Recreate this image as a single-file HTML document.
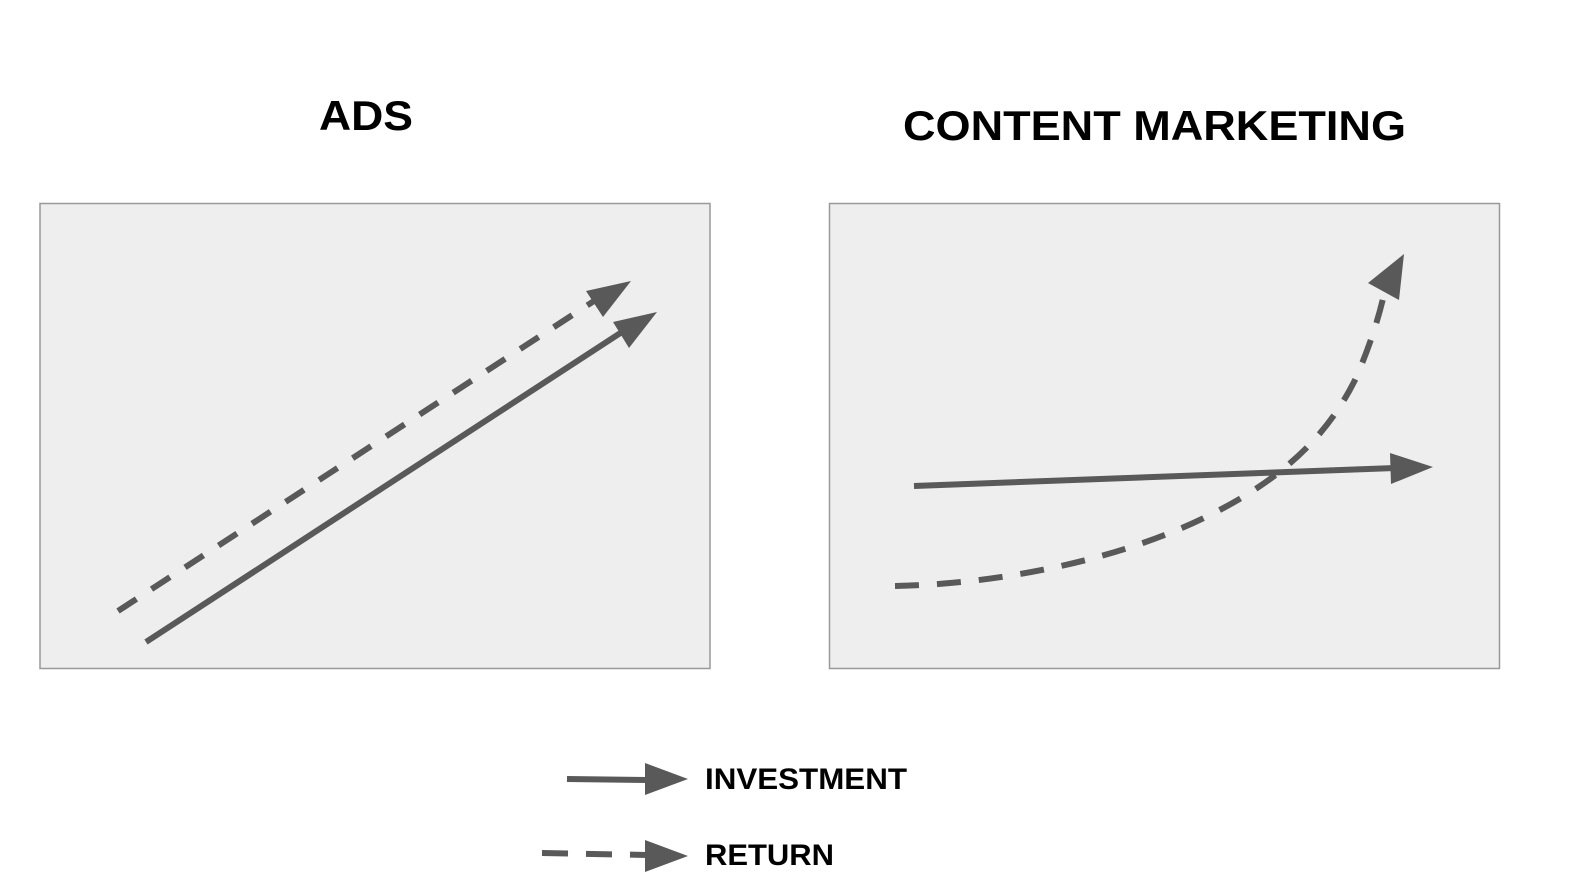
<!DOCTYPE html>
<html><head><meta charset="utf-8"><style>html,body{margin:0;padding:0;background:#fff}svg{display:block}</style></head>
<body>
<svg width="1572" height="892" viewBox="0 0 1572 892" xmlns="http://www.w3.org/2000/svg" font-family="Liberation Sans, Arial, sans-serif" font-weight="bold">
<rect width="1572" height="892" fill="#fff"/>
<text x="319" y="130" font-size="42" fill="#000" textLength="94" lengthAdjust="spacingAndGlyphs">ADS</text>
<text x="903" y="140" font-size="42" fill="#000" textLength="503" lengthAdjust="spacingAndGlyphs">CONTENT MARKETING</text>
<rect x="40" y="203.5" width="670" height="465" fill="#eeeeee" stroke="#999" stroke-width="1.5"/>
<rect x="829.5" y="203.5" width="670" height="465" fill="#eeeeee" stroke="#999" stroke-width="1.5"/>
<g stroke="#595959" stroke-width="6" fill="none">
<line x1="146" y1="642" x2="625" y2="330"/>
<line x1="118" y1="611" x2="597" y2="299" stroke-dasharray="22 18"/>
<line x1="914" y1="486" x2="1395" y2="468"/>
<path d="M895 586 C1000 584 1120 560 1210 515 C1290 475 1330 430 1355 380 C1375 335 1383 300 1386 285" stroke-dasharray="24 18"/>
<line x1="567" y1="779" x2="648" y2="780"/>
<line x1="542" y1="853" x2="648" y2="855" stroke-dasharray="26 18"/>
</g>
<g fill="#595959">
<polygon points="657,312 613,322 629,348"/>
<polygon points="631,281 586,291 603,317"/>
<polygon points="1433,467 1390,453 1391,484"/>
<polygon points="1404,254 1368,283 1399,300"/>
<polygon points="688,779 645,763 645,795"/>
<polygon points="688,856 645,840 645,872"/>
</g>
<text x="705" y="789" font-size="30" fill="#000" textLength="202" lengthAdjust="spacingAndGlyphs">INVESTMENT</text>
<text x="705" y="865" font-size="30" fill="#000" textLength="129" lengthAdjust="spacingAndGlyphs">RETURN</text>
</svg>
</body></html>
